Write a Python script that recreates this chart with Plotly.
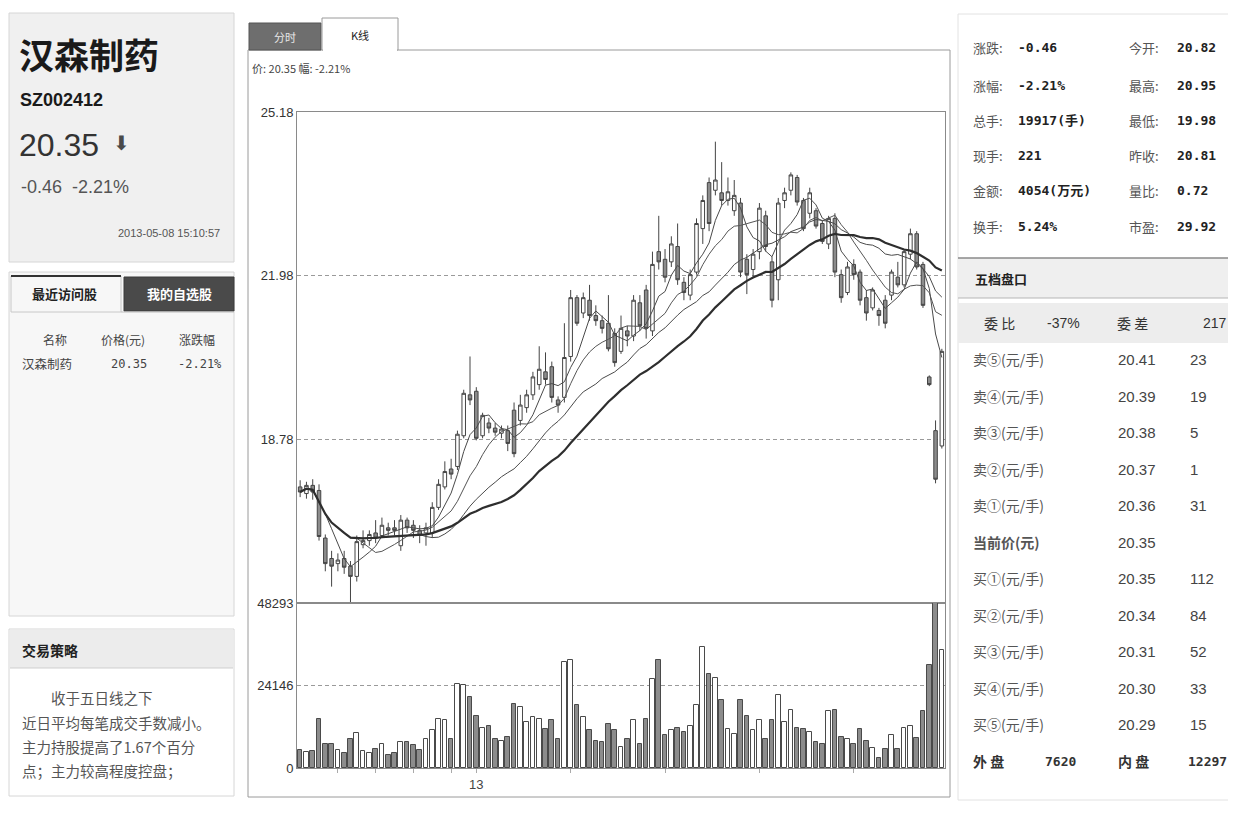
import plotly.graph_objects as go
import pandas as pd

# ------------------------------------------------------------------ data
opens = [17.85, 17.72, 17.88, 17.78, 16.85, 16.45, 16.35, 16.45, 16.30, 16.10,
         16.72, 16.80, 16.95, 16.90, 17.05, 17.05, 16.70, 17.20, 17.10, 17.00,
         16.95, 16.95, 17.45, 17.85, 18.20, 18.25, 18.85, 19.65, 19.72, 18.85,
         19.10, 19.00, 18.90, 18.95, 19.35, 19.15, 19.40, 19.65, 19.85, 20.10,
         20.20, 19.55, 19.60, 20.40, 21.55, 21.25, 21.50, 21.20, 21.10, 21.05,
         20.85, 20.50, 20.90, 20.80, 21.45, 21.70, 20.90, 22.45, 22.30, 22.25,
         22.55, 21.85, 21.60, 22.05, 22.90, 23.80, 23.65, 23.60, 23.45, 23.25,
         23.40, 22.30, 22.10, 22.45, 23.15, 22.25, 21.90, 23.45, 23.65, 23.90,
         23.45, 23.20, 23.25, 23.00, 22.60, 23.10, 22.00, 21.65, 22.20, 22.05,
         21.55, 21.35, 21.30, 21.50, 21.60, 21.95, 21.80, 22.40, 22.80, 22.20,
         20.00, 18.95, 18.65]
highs = [17.98, 17.95, 18.00, 17.90, 16.92, 16.60, 16.55, 16.60, 16.40, 16.90,
         17.00, 17.00, 17.20, 17.25, 17.15, 17.20, 17.30, 17.25, 17.20, 17.10,
         17.15, 17.55, 18.00, 18.35, 18.40, 18.95, 19.75, 20.40, 19.80, 19.30,
         19.20, 19.10, 19.05, 19.05, 19.50, 19.65, 19.75, 20.10, 20.60, 20.48,
         20.30, 19.62, 21.05, 21.70, 21.60, 21.65, 21.80, 21.40, 21.20, 21.60,
         20.95, 21.20, 21.00, 21.60, 21.60, 21.80, 22.45, 23.15, 22.50, 22.75,
         23.00, 21.95, 22.10, 23.10, 23.55, 23.90, 24.60, 24.20, 23.90, 23.85,
         23.50, 22.40, 22.50, 23.40, 23.25, 22.35, 23.50, 23.70, 24.00, 23.95,
         23.50, 23.70, 23.30, 23.05, 23.15, 23.20, 22.10, 22.25, 22.30, 22.10,
         21.70, 21.75, 21.35, 21.60, 22.10, 22.25, 22.50, 22.90, 22.85, 22.25,
         20.03, 19.15, 20.55]
lows = [17.65, 17.62, 17.60, 16.80, 16.20, 15.90, 16.20, 16.15, 15.58, 16.00,
        16.65, 16.70, 16.75, 16.85, 16.90, 16.90, 16.60, 16.95, 16.85, 16.75,
        16.70, 16.85, 17.40, 17.80, 18.00, 18.18, 18.80, 19.45, 18.76, 18.80,
        18.90, 18.85, 18.80, 18.55, 18.43, 19.05, 19.30, 19.55, 19.75, 19.85,
        19.50, 19.30, 19.50, 20.30, 21.00, 21.15, 21.10, 21.00, 20.85, 20.50,
        20.20, 20.45, 20.60, 20.70, 20.90, 20.75, 20.80, 22.10, 21.85, 22.15,
        21.80, 21.50, 21.50, 22.00, 22.60, 22.85, 23.55, 23.35, 23.35, 23.15,
        21.95, 21.62, 21.95, 22.30, 22.45, 21.36, 21.50, 23.30, 23.55, 23.35,
        22.85, 23.10, 22.90, 22.60, 22.50, 21.95, 21.45, 21.60, 21.90, 21.40,
        21.10, 21.30, 21.00, 20.95, 21.50, 21.75, 21.75, 22.30, 22.10, 21.35,
        19.82, 17.92, 18.60]
closes = [17.75, 17.88, 17.75, 16.88, 16.35, 16.30, 16.42, 16.28, 16.10, 16.78,
          16.80, 16.92, 16.85, 17.10, 17.00, 17.00, 17.20, 17.05, 17.00, 16.90,
          17.05, 17.45, 17.90, 18.15, 18.10, 18.88, 19.68, 19.55, 18.80, 19.25,
          19.00, 18.92, 18.98, 18.70, 18.50, 19.45, 19.65, 20.00, 20.15, 19.95,
          19.60, 19.45, 20.38, 21.55, 21.05, 21.55, 21.20, 21.10, 20.95, 20.55,
          20.28, 20.95, 20.80, 21.50, 21.00, 20.95, 22.20, 22.25, 21.95, 22.60,
          21.90, 21.65, 22.00, 23.00, 23.45, 23.00, 23.85, 23.45, 23.62, 23.55,
          22.05, 22.00, 22.40, 23.30, 22.55, 21.50, 23.40, 23.60, 23.95, 23.42,
          22.90, 23.60, 22.95, 22.65, 23.10, 22.05, 21.55, 22.15, 22.00, 21.50,
          21.25, 21.70, 21.20, 21.05, 22.05, 21.80, 22.45, 22.80, 22.15, 21.40,
          19.85, 18.00, 20.50]
volumes = [5170, 4680, 4880, 14440, 7120, 7120, 5170, 4490, 8390, 10240,
           5070, 4490, 5660, 6930, 3710, 4490, 7610, 7610, 6630, 5170,
           8390, 11030, 14440, 13950, 8590, 24690, 24390, 20780, 15220, 11810,
           12290, 8590, 7810, 9070, 18830, 17850, 13460, 14930, 14240, 11510,
           13950, 8590, 31030, 31710, 18340, 14930, 11030, 7900, 7610, 12980,
           11030, 6150, 8390, 14150, 7120, 14440, 26150, 31710, 9760, 11030,
           11810, 10540, 12290, 18340, 35420, 27420, 26340, 20000, 11510, 10050,
           20000, 15220, 11220, 13950, 8590, 13950, 21270, 13460, 17070, 11810,
           11510, 10540, 7610, 7120, 16580, 16880, 9070, 8390, 7120, 11510,
           7900, 5850, 3020, 5460, 9760, 5660, 11810, 12290, 8780, 16580,
           30050, 48293, 34440]

ma_periods = [5, 10, 20, 30]
price_ticks = [25.18, 21.98, 18.78]
price_range = [15.58, 25.18]
volume_ticks = [0, 24146, 48293]
date_tick_pos = [6, 12, 18, 24, 28, 43, 58, 73, 88]
date_tick_text = ["", "", "", "", "13", "", "", "", ""]

stock_name = "汉森制药"
stock_code = "SZ002412"
last_price = "20.35"
change_text = "-0.46  -2.21%"
quote_time = "2013-05-08 15:10:57"

quote_left_labels = ["涨跌:", "涨幅:", "总手:", "现手:", "金额:", "换手:"]
quote_left_values = ["-0.46", "-2.21%", "19917(手)", "221", "4054(万元)", "5.24%"]
quote_right_labels = ["今开:", "最高:", "最低:", "昨收:", "量比:", "市盈:"]
quote_right_values = ["20.82", "20.95", "19.98", "20.81", "0.72", "29.92"]

book_labels = ["卖⑤(元/手)", "卖④(元/手)", "卖③(元/手)", "卖②(元/手)", "卖①(元/手)",
               "当前价(元)",
               "买①(元/手)", "买②(元/手)", "买③(元/手)", "买④(元/手)", "买⑤(元/手)"]
book_prices = ["20.41", "20.39", "20.38", "20.37", "20.36", "20.35",
               "20.35", "20.34", "20.31", "20.30", "20.29"]
book_qty = ["23", "19", "5", "1", "31", "", "112", "84", "52", "33", "15"]

strategy_lines = ["收于五日线之下", "近日平均每笔成交手数减小。",
                  "主力持股提高了1.67个百分", "点；主力较高程度控盘；"]

# ------------------------------------------------------------------ helpers
OFF = 8                      # page body margin of the browser
FW, FH = 1236 - OFF, 822 - OFF
CJK = "Noto Sans CJK SC"
SANS = "Liberation Sans, Arial, sans-serif"
MONO = "DejaVu Sans Mono, Noto Sans CJK SC, monospace"


def X(px):
    return (px - OFF) / FW


def Y(py):
    return 1 - (py - OFF) / FH


fig = go.Figure()
shapes = []


def rect(x0, y0, x1, y1, fill, line=None, lw=1):
    shapes.append(dict(type="rect", xref="paper", yref="paper", layer="below",
                       x0=X(x0), x1=X(x1), y0=Y(y1), y1=Y(y0), fillcolor=fill,
                       line=dict(color=line or "rgba(0,0,0,0)", width=lw if line else 0)))


def hline(x0, x1, y, color, lw=1, layer="below"):
    shapes.append(dict(type="line", xref="paper", yref="paper", layer=layer,
                       x0=X(x0), x1=X(x1), y0=Y(y), y1=Y(y), line=dict(color=color, width=lw)))


def T(x, y, s, size=12, color="#333", anchor="left", family=CJK, bold=False):
    fig.add_annotation(x=X(x), y=Y(y), xref="paper", yref="paper",
                       text=f"<b>{s}</b>" if bold else s, showarrow=False,
                       xanchor=anchor, yanchor="middle", borderpad=0,
                       font=dict(size=size, color=color, family=family))


# ------------------------------------------------------------------ traces
days = list(range(len(closes)))
close_s = pd.Series(closes)
ma_values = {p: close_s.rolling(p, min_periods=1).mean().round(3).tolist() for p in ma_periods}
ma_style = {5: ("#4a4a4a", 1), 10: ("#555555", 1), 20: ("#4a4a4a", 1), 30: ("#2e2e2e", 2.2)}

fig.add_trace(go.Candlestick(
    x=days, open=opens, high=highs, low=lows, close=closes,
    increasing=dict(line=dict(color="#444444", width=1), fillcolor="#ffffff"),
    decreasing=dict(line=dict(color="#444444", width=1), fillcolor="#8c8c8c"),
    whiskerwidth=0, xaxis="x", yaxis="y", showlegend=False, hoverinfo="skip"))

for p in ma_periods:
    c, w = ma_style[p]
    fig.add_trace(go.Scatter(x=days, y=ma_values[p], mode="lines",
                             line=dict(color=c, width=w), xaxis="x", yaxis="y",
                             showlegend=False, hoverinfo="skip"))

vol_colors = ["#ffffff" if c >= o else "#8c8c8c" for o, c in zip(opens, closes)]
fig.add_trace(go.Bar(x=days, y=volumes, width=0.74,
                     marker=dict(color=vol_colors, line=dict(color="#4a4a4a", width=1)),
                     xaxis="x2", yaxis="y2", showlegend=False, hoverinfo="skip"))

# ------------------------------------------------------------------ panels
rect(9, 13, 234, 262, "#f0f0f0", "#d6d6d6")
rect(9, 272, 234, 616, "#f7f7f7", "#d6d6d6")
rect(11, 276, 121, 312, "#f7f7f7", "#c8c8c8")
hline(11, 121, 276, "#333333", 2)
rect(124, 277, 234, 311, "#4a4a4a", "#3a3a3a")
hline(121, 234, 312, "#bdbdbd", 1)
rect(9, 629, 234, 796, "#ffffff", "#d6d6d6")
rect(10, 630, 233, 668, "#ececec")
hline(10, 233, 668, "#cfcfcf", 1)

rect(248, 50, 950, 797, "#ffffff", "#9a9a9a")
rect(249, 23, 321, 50, "#6e6e6e", "#555555")
rect(322, 18, 398, 50, "#ffffff", "#9a9a9a")
hline(323, 397, 50, "#ffffff", 2)

rect(958, 14, 1236, 800, "#ffffff", "#e2e2e2")
rect(958, 258, 1236, 298, "#efefef")
hline(958, 1236, 258, "#8a8a8a", 1.5)
hline(958, 1236, 298, "#b5b5b5", 1)
rect(958, 303, 1236, 343, "#ededed")

# ------------------------------------------------------------------ texts (left)
T(18, 53, stock_name, 35, "#1a1a1a", bold=True)
T(19, 100, stock_code, 18, "#1a1a1a", family=SANS, bold=True)
T(18, 145, last_price, 32, "#333333", family=SANS)
T(112, 143, "⬇", 20, "#4a4a4a", family="DejaVu Sans")
T(20, 187, change_text, 18, "#555555", family=SANS)
T(221, 233, quote_time, 11, "#555555", anchor="right", family=SANS)

T(64, 293, "最近访问股", 13, "#222222", anchor="center", bold=True)
T(179, 293, "我的自选股", 13, "#ffffff", anchor="center", bold=True)
T(55, 340, "名称", 12, "#444444", anchor="center")
T(123, 340, "价格(元)", 12, "#444444", anchor="center")
T(197, 340, "涨跌幅", 12, "#444444", anchor="center")
T(21, 364, stock_name, 12.5, "#444444")
T(148, 364, last_price, 12, "#444444", anchor="right", family=MONO)
T(223, 364, "-2.21%", 12, "#444444", anchor="right", family=MONO)

T(21, 650, "交易策略", 14, "#222222", bold=True)
T(50, 697, strategy_lines[0], 14.5, "#555555")
for i, line in enumerate(strategy_lines[1:]):
    T(21, 722 + 24 * i, line, 14.5, "#555555")

T(285, 37, "分时", 11, "#e8e8e8", anchor="center")
T(360, 35, "K线", 11, "#222222", anchor="center")
T(251, 68, "价: 20.35 幅: -2.21%", 11, "#444444")

# ------------------------------------------------------------------ texts (right)
rows_y = [48, 85, 120, 155, 190, 226]
for i, yy in enumerate(rows_y):
    T(972, yy, quote_left_labels[i], 13, "#555555")
    T(1017, yy, quote_left_values[i], 13, "#222222", family=MONO, bold=True)
    T(1128, yy, quote_right_labels[i], 13, "#555555")
    T(1176, yy, quote_right_values[i], 13, "#222222", family=MONO, bold=True)

T(974, 278, "五档盘口", 13, "#222222", bold=True)
T(983, 323, "委 比", 14, "#333333")
T(1046, 323, "-37%", 14, "#333333", family=SANS)
T(1116, 323, "委 差", 14, "#333333")
T(1202, 323, "217", 14, "#333333", family=SANS)

book_y = [359, 396, 432, 469, 505, 542, 578, 615, 651, 688, 724]
for i, yy in enumerate(book_y):
    T(972, yy, book_labels[i], 14, "#555555", bold=(book_labels[i].startswith("当前")))
    T(1117, yy, book_prices[i], 15, "#444444", family=SANS)
    if book_qty[i]:
        T(1189, yy, book_qty[i], 15, "#444444", family=SANS)

T(972, 761, "外 盘", 14, "#333333", bold=True)
T(1044, 761, "7620", 13, "#333333", family=MONO, bold=True)
T(1117, 761, "内 盘", 14, "#333333", bold=True)
T(1187, 761, "12297", 13, "#333333", family=MONO, bold=True)

# ------------------------------------------------------------------ layout
axis_line = "#8a8a8a"
grid = dict(showgrid=True, gridcolor="#9a9a9a", griddash="4px,3px", gridwidth=1)
fig.update_layout(
    template="none",
    width=FW, height=FH, autosize=False,
    margin=dict(l=0, r=0, t=0, b=0, pad=0, autoexpand=False),
    paper_bgcolor="#ffffff", plot_bgcolor="rgba(0,0,0,0)",
    shapes=shapes, showlegend=False, bargap=0, boxgap=0.2,
    xaxis=dict(domain=[X(297), X(945)], range=[-0.5, len(days) - 0.5], anchor="y",
               showticklabels=False, ticks="", showgrid=False, zeroline=False,
               showline=True, mirror=True, linecolor=axis_line, linewidth=1,
               automargin=False, rangeslider=dict(visible=False)),
    yaxis=dict(domain=[Y(603), Y(112)], range=price_range, anchor="x",
               tickvals=price_ticks, ticktext=[f"{v:.2f}" for v in price_ticks],
               ticks="", zeroline=False, showline=True, mirror=True, automargin=False,
               linecolor=axis_line, linewidth=1,
               tickfont=dict(size=13, color="#333333", family=SANS), **grid),
    xaxis2=dict(domain=[X(297), X(945)], range=[-0.5, len(days) - 0.5], anchor="y2",
                matches="x", tickvals=date_tick_pos, ticktext=date_tick_text,
                ticks="outside", ticklen=4, tickcolor="#aaaaaa", showgrid=False,
                zeroline=False, showline=True, mirror=True, linecolor=axis_line,
                linewidth=1, automargin=False,
                tickfont=dict(size=13, color="#444444", family=SANS)),
    yaxis2=dict(domain=[Y(768), Y(603)], range=[0, volume_ticks[-1]], anchor="x2",
                tickvals=volume_ticks, ticktext=[str(v) for v in volume_ticks],
                ticks="", zeroline=False, showline=True, mirror=True, automargin=False,
                linecolor=axis_line, linewidth=1,
                tickfont=dict(size=13, color="#333333", family=SANS), **grid),
)

fig.write_html("out.html")
